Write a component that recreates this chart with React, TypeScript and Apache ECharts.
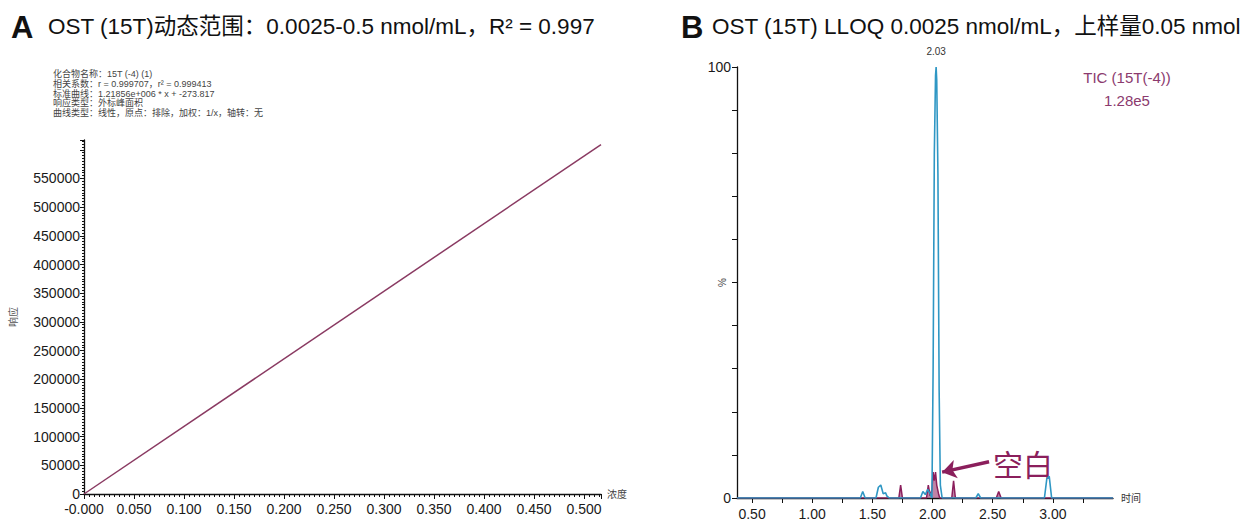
import React, { useEffect, useRef } from "react";
import * as echarts from "echarts";

// Panel A: calibration curve
const calConc = [0, 0.517];
const calResp = [0, 609000];
const calXLabels = [0, 0.05, 0.1, 0.15, 0.2, 0.25, 0.3, 0.35, 0.4, 0.45, 0.5];
const calYLabels = [0, 50000, 100000, 150000, 200000, 250000, 300000, 350000, 400000, 450000, 500000, 550000];
const infoLines = [
  "化合物名称：15T (-4) (1)",
  "相关系数：r = 0.999707，r² = 0.999413",
  "标准曲线：1.21856e+006 * x + -273.817",
  "响应类型：外标峰面积",
  "曲线类型：线性，原点：排除，加权：1/x，轴转：无",
];

// Panel B: chromatogram (TIC, relative %)
const ticTime = [0.375, 1.4, 1.42, 1.44, 1.53, 1.55, 1.57, 1.59, 1.61, 1.62, 1.64, 1.9, 1.92, 1.94, 1.96, 1.98, 1.995, 2.005, 2.015, 2.025, 2.03, 2.035, 2.045, 2.055, 2.065, 2.08, 2.36, 2.38, 2.4, 2.93, 2.95, 2.97, 2.99, 3.5];
const ticVal = [0, 0, 1.5, 0, 0, 2.5, 3, 1, 1.2, 0.5, 0, 0, 1.5, 0.8, 2, 1, 0, 30, 80, 98, 100, 97, 75, 25, 3, 0, 0, 1, 0, 0, 4.5, 5, 0, 0];
const blankTime = [0.375, 1.72, 1.735, 1.75, 1.95, 1.965, 1.98, 1.995, 2.005, 2.015, 2.025, 2.035, 2.05, 2.06, 2.16, 2.175, 2.19, 2.53, 2.55, 2.57, 3.5];
const blankVal = [0, 0, 3, 0, 0, 3, 0.5, 2, 6, 4, 6, 3, 1, 0, 0, 4, 0, 0, 1.5, 0, 0];
const chromXTicks = [0.5, 0.75, 1, 1.25, 1.5, 1.75, 2, 2.25, 2.5, 2.75, 3, 3.25];
const chromXLabels = [0.5, 1, 1.5, 2, 2.5, 3];
const chromYTicks = [0, 10, 20, 30, 40, 50, 60, 70, 80, 90, 100];
const chromYLabels = [0, 100];
const peakTime = 2.03;
const arrowFrom = [2.47, 8.4];
const arrowTo = [2.08, 6.0];

const FONT = "'Liberation Sans', Arial, 'Noto Sans CJK SC', sans-serif";
const PURPLE = "#8b1f5c";
const BLUE = "#2f97c4";

export default function App() {
  const ref = useRef<HTMLDivElement>(null);
  useEffect(() => {
    if (!ref.current) return;
    const chart = echarts.init(ref.current, null, { renderer: "svg" });
    const axisLine = { lineStyle: { color: "#111", width: 1.3 } };
    const option: any = {
      animation: false,
      backgroundColor: "#fff",
      textStyle: { fontFamily: FONT },
      grid: [
        { left: 84, top: 140, width: 517, height: 354 },
        { left: 737, top: 67, width: 376, height: 431 },
      ],
      xAxis: [
        {
          gridIndex: 0, type: "value", min: 0, max: 0.517, interval: 0.05,
          name: "浓度", nameLocation: "end", nameGap: 6, nameMoveOverlap: false,
          nameTextStyle: { fontSize: 10, color: "#444", fontFamily: FONT },
          axisLine, splitLine: { show: false },
          axisTick: { show: true, length: 5, lineStyle: { color: "#111" } },
          minorTick: { show: true, splitNumber: 10, length: 3, lineStyle: { color: "#111" } },
          axisLabel: {
            customValues: calXLabels, fontSize: 14, color: "#1a1a1a", margin: 8, fontFamily: FONT,
            formatter: (v: number) => (v === 0 ? "-0.000" : v.toFixed(3)),
          },
        },
        {
          gridIndex: 1, type: "value", min: 0.375, max: 3.5,
          name: "时间", nameLocation: "end", nameGap: 8, nameMoveOverlap: false,
          nameTextStyle: { fontSize: 10, color: "#333", fontFamily: FONT },
          axisLine, splitLine: { show: false },
          axisTick: { show: true, customValues: chromXTicks, length: 5, lineStyle: { color: "#111" } },
          axisLabel: {
            customValues: chromXLabels, fontSize: 14, color: "#1a1a1a", margin: 9, fontFamily: FONT,
            formatter: (v: number) => v.toFixed(2),
          },
        },
      ],
      yAxis: [
        {
          gridIndex: 0, type: "value", min: 0, max: 617000, interval: 50000,
          name: "响应", nameLocation: "middle", nameGap: 66, nameRotate: 90, nameMoveOverlap: false,
          nameTextStyle: { fontSize: 10, color: "#555", fontFamily: FONT },
          axisLine, splitLine: { show: false },
          axisTick: { show: true, length: 4, lineStyle: { color: "#111" } },
          minorTick: { show: true, splitNumber: 10, length: 2, lineStyle: { color: "#111" } },
          axisLabel: {
            customValues: calYLabels, fontSize: 14, color: "#1a1a1a", margin: 4, fontFamily: FONT,
            formatter: (v: number) => String(v),
          },
        },
        {
          gridIndex: 1, type: "value", min: 0, max: 100,
          name: "%", nameLocation: "middle", nameGap: 10, nameRotate: 90, nameMoveOverlap: false,
          nameTextStyle: { fontSize: 10, color: "#444", fontFamily: FONT },
          axisLine, splitLine: { show: false },
          axisTick: { show: true, customValues: chromYTicks, length: 5, lineStyle: { color: "#111" } },
          axisLabel: {
            customValues: chromYLabels, fontSize: 14, color: "#1a1a1a", margin: 6, fontFamily: FONT,
            formatter: (v: number) => String(v),
          },
        },
      ],
      series: [
        {
          type: "line", xAxisIndex: 0, yAxisIndex: 0, symbol: "none",
          lineStyle: { color: "#8a3a62", width: 1.5 },
          data: calConc.map((c, i) => [c, calResp[i]]),
        },
        {
          type: "line", xAxisIndex: 1, yAxisIndex: 1, symbol: "none",
          lineStyle: { color: PURPLE, width: 1.5 },
          areaStyle: { color: PURPLE, opacity: 0.55 },
          data: blankTime.map((t, i) => [t, blankVal[i]]),
          markLine: {
            silent: true, symbol: ["none", "arrow"], symbolSize: [14, 14],
            lineStyle: { color: PURPLE, width: 3.5, type: "solid" },
            label: { show: false },
            data: [[{ coord: arrowFrom }, { coord: arrowTo }]],
          },
        },
        {
          type: "line", xAxisIndex: 1, yAxisIndex: 1, symbol: "none",
          lineStyle: { color: BLUE, width: 1.6 },
          data: ticTime.map((t, i) => [t, ticVal[i]]),
          markPoint: {
            symbol: "circle", symbolSize: 0,
            label: { show: true, position: "top", distance: 11, formatter: peakTime.toFixed(2), fontSize: 10, color: "#333", fontFamily: FONT },
            data: [{ coord: [peakTime, 100] }],
          },
        },
      ],
      graphic: [
        { type: "text", left: 11, top: 12, style: { text: "A", fontSize: 31, fontWeight: "bold", fontFamily: FONT, fill: "#111" } },
        { type: "text", left: 48, top: 15, style: { text: "OST (15T)动态范围：0.0025-0.5 nmol/mL，R² = 0.997", fontSize: 22.5, fontFamily: FONT, fill: "#111" } },
        { type: "text", left: 681, top: 12, style: { text: "B", fontSize: 31, fontWeight: "bold", fontFamily: FONT, fill: "#111" } },
        { type: "text", left: 712, top: 15, style: { text: "OST (15T) LLOQ 0.0025 nmol/mL，上样量0.05 nmol", fontSize: 22.5, fontFamily: FONT, fill: "#111" } },
        ...infoLines.map((t, i) => ({
          type: "text", x: 53, y: 74 + i * 9.75,
          style: { text: t, fontSize: 9, fontFamily: FONT, fill: "#444", align: "left", verticalAlign: "middle" },
        })),
        { type: "text", left: 993, top: 450, style: { text: "空白", fontSize: 30, fontFamily: FONT, fill: PURPLE } },
        { type: "text", x: 1127, y: 70, style: { text: "TIC (15T(-4))", fontSize: 15, fontFamily: FONT, fill: "#8b3a6e", align: "center" } },
        { type: "text", x: 1127, y: 93, style: { text: "1.28e5", fontSize: 15, fontFamily: FONT, fill: "#8b3a6e", align: "center" } },
      ],
    };
    chart.setOption(option);
    return () => chart.dispose();
  }, []);
  return <div ref={ref} style={{ position: "absolute", left: 0, top: 0, width: 1248, height: 523, background: "#fff" }} />;
}
